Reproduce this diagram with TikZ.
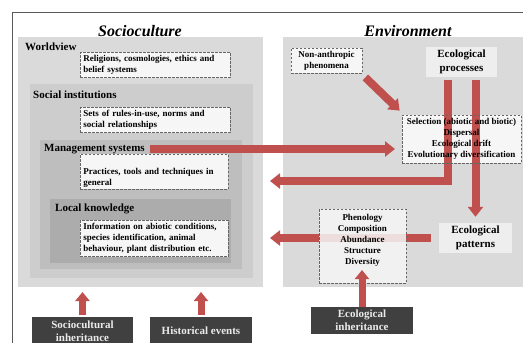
\documentclass[tikz,border=0pt]{standalone}
\usepackage{fontspec}
\setmainfont{Liberation Serif}
\usetikzlibrary{arrows.meta,positioning}
\definecolor{brick}{RGB}{192,80,77}
\definecolor{greyA}{RGB}{218,218,218}
\definecolor{greyB}{RGB}{205,205,205}
\definecolor{greyC}{RGB}{190,190,190}
\definecolor{greyD}{RGB}{172,172,172}
\definecolor{charcoal}{RGB}{64,64,64}
\definecolor{paper}{RGB}{246,246,246}
\definecolor{mist}{RGB}{238,238,238}
\pgfdeclarelayer{back}
\pgfdeclarelayer{mid}
\pgfsetlayers{back,mid,main}
\tikzset{
  zone/.style  = {anchor=north west, inner sep=0pt, outer sep=0pt},
  note/.style  = {draw=black!60, dash pattern=on 2.5pt off 1.5pt, line width=0.7pt,
                  fill=paper, inner sep=3pt, font=\fontsize{9}{11}\selectfont\bfseries},
  tag/.style   = {anchor=west, inner sep=0pt, font=\fontsize{11}{13}\selectfont\bfseries},
  soft/.style  = {fill=mist, align=center, inner sep=2pt, font=\fontsize{11}{14}\selectfont\bfseries},
  dark/.style  = {fill=charcoal, text=black!8, align=center, inner sep=2pt,
                  font=\fontsize{11}{13}\selectfont\bfseries},
  flow/.style  = {draw=brick, line width=8pt, line join=miter, -{Triangle[length=10pt,width=15pt]}},
  rise/.style  = {draw=brick, line width=7pt, -{Triangle[length=9pt,width=14pt]}},
}

\begin{document}
\begin{tikzpicture}[x=1pt,y=-1pt,
  title/.style={font=\fontsize{16}{18}\selectfont\bfseries\itshape},
  leftnote/.style={note, anchor=north west, text width=144pt, align=left},
]
\useasboundingbox (0,0) rectangle (523,343);
\clip (0,0) rectangle (523,343);
\draw[black!65, line width=0.8pt] (12,343) -- (12,12) -- (523,12);
\begin{pgfonlayer}{back}
\node[zone, fill=greyA, minimum width=245pt, minimum height=250pt] (socio) at (18,37) {};
\node[zone, fill=greyB, minimum width=223pt, minimum height=194pt] (inst) at (30,84) {};
\node[zone, fill=greyC, minimum width=202pt, minimum height=129pt] (manage) at (40,140) {};
\node[zone, fill=greyD, minimum width=181pt, minimum height=64pt] (local) at (50,199) {};
\node[zone, fill=greyA, minimum width=240pt, minimum height=250pt] (env) at (283,37) {};
\end{pgfonlayer}

\node[title] (socTitle) at (140,31) {Socioculture};
\node[title] (envTitle) at (408,31) {Environment};

\node[tag] (worldview) at (25,47) {Worldview};
\node[tag] (social) at (33,95) {Social institutions};
\node[tag] (mgmt) at (44,149) {Management systems};
\node[tag] (lknow) at (55,209) {Local knowledge};

\node[leftnote] (beliefs) at (80,52) {Religions, cosmologies, ethics and\\belief systems};
\node[leftnote] (rules) at (80,107) {Sets of rules-in-use, norms and\\social relationships};
\node[leftnote, text width=142pt, text height=17pt, text depth=12pt] (tools) at (80,154) {Practices, tools and techniques in\\general};
\node[leftnote, text width=142pt] (info) at (80,220) {Information on abiotic conditions,\\species identification, animal\\behaviour, plant distribution etc.};

\node[note, align=center, minimum width=71pt, minimum height=25pt] (non) at (326.5,60.5) {Non-anthropic\\phenomena};
\node[soft, minimum width=71pt, minimum height=30pt] (proc) at (461.5,62) {Ecological\\processes};
\node[note, fill=none, align=center, minimum width=119pt, minimum height=48pt] (sel) at (461.5,139)
  {Selection (abiotic and biotic)\\Dispersal\\Ecological drift\\Evolutionary diversification};
\node[soft, minimum width=73pt, minimum height=30pt] (pat) at (475.5,238) {Ecological\\patterns};
\node[note, align=center, fill opacity=0.85, text opacity=1, minimum width=87pt, text height=52pt, text depth=16pt] (pheno) at (362.5,246)
  {Phenology\\Composition\\Abundance\\Structure\\Diversity};

\node[dark, anchor=north, minimum width=101pt, minimum height=28pt] (socinh) at (82.5,317) {Sociocultural\\inheritance};
\node[dark, anchor=north, minimum width=102pt, minimum height=28pt] (hist) at (201,317) {Historical events};
\node[dark, minimum width=102pt, minimum height=27pt] (ecoinh) at (362,320.5) {Ecological\\inheritance};

\begin{pgfonlayer}{back}
\fill[paper] (sel.north west) rectangle (sel.south east);
\end{pgfonlayer}

\coordinate (mgmtTip) at (395,149);
\coordinate (turnTip) at (270,181);
\coordinate (patTip) at (270,238);
\coordinate (ecoTip) at (362,270);
\begin{pgfonlayer}{mid}
\draw[flow] ([xshift=5pt]mgmt.east) -- (mgmtTip);
\draw[flow] ([shift={(3pt,-4pt)}]non.south east) -- ([shift={(-2pt,4pt)}]sel.north west);
\draw[flow] ([xshift=-14pt,yshift=-3pt]proc.south) |- (turnTip);
\draw[flow] ([xshift=14pt,yshift=-3pt]proc.south) -- ([yshift=6pt]pat.north);
\draw[flow] ([xshift=-8pt]pat.west) -- (patTip);
\end{pgfonlayer}

\draw[rise, shorten <=2pt, shorten >=5pt] (socinh.north) -- (socinh.north |- socio.south);
\draw[rise, shorten <=2pt, shorten >=5pt] (hist.north) -- (hist.north |- socio.south);
\draw[rise] (ecoinh.north) -- (ecoTip);
\end{tikzpicture}
\end{document}
